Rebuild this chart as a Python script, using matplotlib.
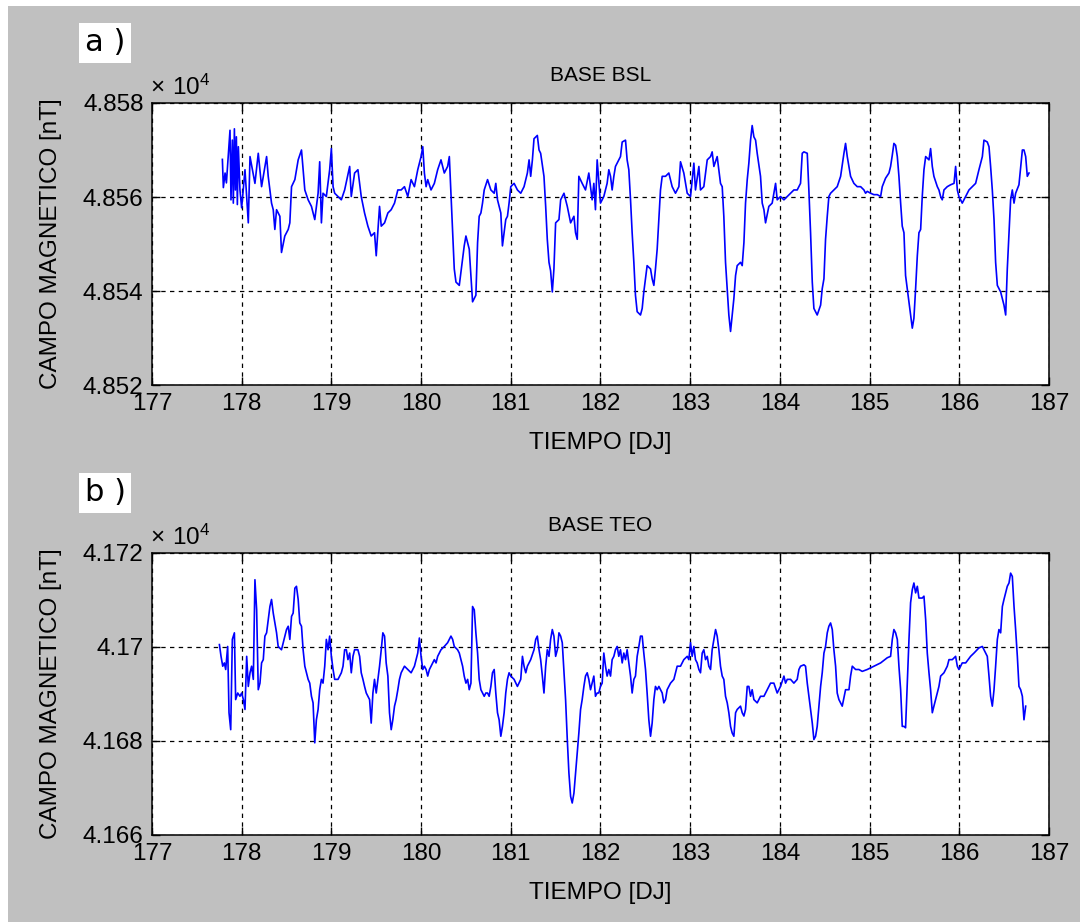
import matplotlib
matplotlib.use("Agg")
import matplotlib.pyplot as plt
from matplotlib.ticker import FuncFormatter
from matplotlib.patches import Rectangle

plt.rcParams['font.family'] = ['Liberation Sans', 'DejaVu Sans']
plt.rcParams['mathtext.fontset'] = 'custom'
plt.rcParams['mathtext.rm'] = 'Liberation Sans'

# --- BASE BSL (dia juliano, nT)
t_bsl = [177.785, 177.796, 177.815, 177.830, 177.870, 177.881, 177.896, 177.907, 177.919, 177.930,
         177.941, 177.952, 177.963, 177.981, 178.000, 178.037, 178.074, 178.093, 178.148, 178.185,
         178.222, 178.278, 178.296, 178.333, 178.352, 178.370, 178.389, 178.426, 178.444, 178.481,
         178.519, 178.537, 178.556, 178.593, 178.630, 178.667, 178.685, 178.704, 178.741, 178.778,
         178.815, 178.852, 178.870, 178.889, 178.907, 178.944, 178.981, 179.000, 179.019, 179.037,
         179.111, 179.148, 179.204, 179.222, 179.259, 179.296, 179.333, 179.370, 179.407, 179.444,
         179.481, 179.500, 179.537, 179.556, 179.593, 179.630, 179.667, 179.704, 179.741, 179.778,
         179.815, 179.852, 179.889, 179.926, 179.963, 180.000, 180.019, 180.037, 180.056, 180.074,
         180.111, 180.148, 180.185, 180.222, 180.259, 180.296, 180.315, 180.333, 180.352, 180.370,
         180.389, 180.426, 180.444, 180.481, 180.500, 180.537, 180.556, 180.574, 180.611, 180.630,
         180.648, 180.667, 180.685, 180.704, 180.741, 180.778, 180.815, 180.833, 180.852, 180.889,
         180.907, 180.944, 180.963, 180.981, 181.000, 181.037, 181.074, 181.111, 181.148, 181.185,
         181.204, 181.222, 181.241, 181.259, 181.296, 181.315, 181.333, 181.370, 181.389, 181.407,
         181.426, 181.444, 181.463, 181.481, 181.500, 181.537, 181.556, 181.593, 181.630, 181.667,
         181.704, 181.722, 181.741, 181.759, 181.796, 181.833, 181.870, 181.907, 181.926, 181.944,
         181.963, 182.000, 182.037, 182.074, 182.093, 182.112, 182.130, 182.149, 182.167, 182.186,
         182.223, 182.242, 182.279, 182.297, 182.316, 182.335, 182.353, 182.372, 182.390, 182.409,
         182.446, 182.465, 182.483, 182.520, 182.558, 182.576, 182.595, 182.613, 182.632, 182.651,
         182.669, 182.688, 182.725, 182.762, 182.799, 182.836, 182.874, 182.892, 182.929, 182.967,
         183.004, 183.041, 183.059, 183.097, 183.115, 183.152, 183.190, 183.227, 183.245, 183.264,
         183.301, 183.338, 183.357, 183.375, 183.394, 183.413, 183.431, 183.450, 183.468, 183.487,
         183.506, 183.524, 183.561, 183.580, 183.599, 183.617, 183.636, 183.654, 183.673, 183.691,
         183.710, 183.729, 183.747, 183.784, 183.803, 183.822, 183.840, 183.877, 183.914, 183.952,
         183.970, 184.007, 184.045, 184.082, 184.119, 184.156, 184.193, 184.212, 184.230, 184.249,
         184.268, 184.305, 184.323, 184.342, 184.361, 184.379, 184.416, 184.454, 184.472, 184.491,
         184.509, 184.528, 184.546, 184.565, 184.602, 184.639, 184.677, 184.714, 184.732, 184.751,
         184.770, 184.788, 184.825, 184.862, 184.900, 184.937, 184.955, 184.974, 185.011, 185.048,
         185.086, 185.123, 185.141, 185.178, 185.216, 185.234, 185.253, 185.271, 185.290, 185.309,
         185.327, 185.346, 185.364, 185.383, 185.401, 185.420, 185.457, 185.476, 185.494, 185.513,
         185.532, 185.550, 185.569, 185.587, 185.606, 185.625, 185.662, 185.680, 185.699, 185.717,
         185.755, 185.773, 185.792, 185.810, 185.829, 185.866, 185.903, 185.941, 185.959, 185.978,
         185.996, 186.033, 186.071, 186.108, 186.145, 186.182, 186.219, 186.257, 186.275, 186.312,
         186.331, 186.349, 186.368, 186.387, 186.405, 186.424, 186.461, 186.498, 186.517, 186.535,
         186.554, 186.572, 186.591, 186.610, 186.628, 186.665, 186.703, 186.721, 186.740, 186.758,
         186.777]
b_bsl = [48568.0, 48562.0, 48565.1, 48563.0, 48574.2, 48559.4, 48572.1, 48558.7, 48574.5, 48561.5,
         48572.8, 48558.4, 48570.7, 48561.5, 48557.7, 48565.8, 48554.5, 48568.6, 48562.9, 48569.3,
         48562.2, 48568.6, 48564.4, 48558.7, 48557.3, 48553.1, 48557.3, 48555.9, 48548.2, 48551.7,
         48553.1, 48554.5, 48562.2, 48563.7, 48567.9, 48570.0, 48565.8, 48561.5, 48559.4, 48558.0,
         48555.2, 48560.8, 48567.5, 48554.5, 48560.8, 48560.1, 48565.8, 48570.3, 48562.2, 48560.8,
         48559.4, 48561.5, 48566.5, 48560.1, 48565.1, 48565.8, 48560.1, 48556.6, 48553.8, 48551.7,
         48552.4, 48547.5, 48558.0, 48553.8, 48554.5, 48556.6, 48557.3, 48558.7, 48561.5, 48561.5,
         48562.2, 48560.1, 48563.7, 48562.2, 48565.8, 48568.6, 48570.7, 48565.1, 48562.2, 48563.7,
         48561.5, 48562.9, 48565.8, 48567.9, 48565.1, 48566.5, 48568.6, 48560.8, 48552.4, 48544.7,
         48541.9, 48541.2, 48544.0, 48549.6, 48551.7, 48548.9, 48543.3, 48537.7, 48539.1, 48550.3,
         48555.9, 48556.6, 48558.7, 48561.5, 48563.7, 48561.5, 48560.8, 48562.9, 48559.4, 48556.6,
         48549.6, 48555.2, 48555.9, 48558.7, 48562.2, 48562.9, 48561.5, 48560.8, 48562.2, 48565.1,
         48567.9, 48564.4, 48567.9, 48572.4, 48573.1, 48570.0, 48569.3, 48564.4, 48558.0, 48551.0,
         48546.1, 48544.3, 48539.8, 48544.7, 48554.5, 48555.2, 48559.4, 48560.8, 48558.0, 48554.5,
         48555.9, 48552.4, 48551.0, 48564.4, 48562.9, 48561.5, 48565.1, 48559.4, 48562.9, 48557.3,
         48567.9, 48558.7, 48560.1, 48562.9, 48565.8, 48564.4, 48561.5, 48564.4, 48566.5, 48567.2,
         48568.6, 48571.7, 48572.1, 48567.9, 48565.8, 48559.4, 48552.4, 48546.1, 48539.1, 48535.6,
         48534.9, 48536.3, 48539.8, 48545.4, 48544.7, 48542.6, 48541.2, 48544.7, 48548.9, 48555.2,
         48561.5, 48564.4, 48564.4, 48565.1, 48562.2, 48560.8, 48562.2, 48567.5, 48565.1, 48560.8,
         48560.1, 48567.2, 48561.5, 48566.5, 48561.5, 48562.2, 48567.9, 48568.6, 48569.6, 48566.5,
         48568.6, 48562.9, 48562.2, 48555.9, 48546.1, 48540.5, 48534.9, 48531.4, 48534.9, 48538.4,
         48543.3, 48545.4, 48546.1, 48545.4, 48550.3, 48558.7, 48563.7, 48567.2, 48572.1, 48575.2,
         48572.8, 48572.1, 48569.3, 48564.4, 48558.7, 48557.3, 48554.5, 48558.0, 48558.7, 48562.9,
         48559.4, 48560.1, 48559.4, 48560.1, 48560.8, 48561.5, 48561.5, 48562.2, 48562.9, 48569.3,
         48569.6, 48569.3, 48561.5, 48552.4, 48541.9, 48536.3, 48534.9, 48537.0, 48540.5, 48542.6,
         48551.0, 48555.9, 48560.1, 48560.8, 48561.5, 48562.2, 48564.4, 48569.3, 48571.4, 48568.6,
         48566.5, 48564.4, 48562.9, 48562.2, 48562.2, 48561.5, 48560.8, 48561.2, 48560.8, 48560.5,
         48560.5, 48560.1, 48562.2, 48564.0, 48565.1, 48566.5, 48568.9, 48571.4, 48571.0, 48568.6,
         48564.4, 48558.7, 48553.8, 48552.4, 48543.3, 48540.5, 48534.9, 48532.1, 48534.2, 48540.5,
         48547.5, 48552.4, 48553.1, 48560.1, 48565.8, 48568.6, 48567.9, 48570.3, 48566.5, 48564.4,
         48562.2, 48561.5, 48560.1, 48559.4, 48561.5, 48562.2, 48562.6, 48562.9, 48566.5, 48561.5,
         48560.1, 48558.7, 48560.1, 48561.5, 48562.2, 48562.9, 48565.8, 48568.6, 48572.1, 48571.7,
         48570.7, 48566.5, 48561.5, 48555.2, 48546.1, 48541.2, 48539.8, 48537.0, 48534.9, 48544.7,
         48552.4, 48559.4, 48561.5, 48558.7, 48560.8, 48562.6, 48570.0, 48570.0, 48568.6, 48564.4,
         48565.1]

# --- BASE TEO (dia juliano, nT)
t_teo = [177.752, 177.770, 177.789, 177.807, 177.822, 177.844, 177.859, 177.878, 177.896, 177.919,
         177.933, 177.956, 177.981, 178.000, 178.019, 178.037, 178.056, 178.074, 178.093, 178.111,
         178.130, 178.148, 178.167, 178.185, 178.204, 178.222, 178.241, 178.259, 178.278, 178.296,
         178.315, 178.333, 178.352, 178.370, 178.389, 178.407, 178.444, 178.481, 178.500, 178.519,
         178.537, 178.556, 178.574, 178.593, 178.611, 178.630, 178.648, 178.667, 178.685, 178.704,
         178.722, 178.741, 178.759, 178.778, 178.796, 178.815, 178.833, 178.852, 178.870, 178.889,
         178.907, 178.926, 178.944, 178.963, 178.981, 179.000, 179.019, 179.037, 179.074, 179.093,
         179.111, 179.130, 179.148, 179.167, 179.185, 179.204, 179.222, 179.241, 179.259, 179.296,
         179.315, 179.333, 179.352, 179.370, 179.389, 179.407, 179.426, 179.444, 179.463, 179.481,
         179.500, 179.519, 179.537, 179.556, 179.574, 179.593, 179.611, 179.630, 179.648, 179.667,
         179.685, 179.704, 179.722, 179.741, 179.759, 179.778, 179.796, 179.815, 179.852, 179.889,
         179.926, 179.944, 179.963, 179.981, 180.000, 180.019, 180.037, 180.056, 180.074, 180.093,
         180.111, 180.130, 180.148, 180.167, 180.185, 180.222, 180.259, 180.296, 180.333, 180.352,
         180.370, 180.407, 180.426, 180.444, 180.463, 180.481, 180.500, 180.519, 180.537, 180.556,
         180.574, 180.593, 180.611, 180.630, 180.648, 180.667, 180.685, 180.704, 180.722, 180.741,
         180.759, 180.778, 180.796, 180.815, 180.833, 180.852, 180.870, 180.889, 180.907, 180.926,
         180.944, 180.963, 180.981, 181.000, 181.037, 181.074, 181.111, 181.130, 181.148, 181.167,
         181.185, 181.222, 181.259, 181.278, 181.296, 181.315, 181.333, 181.352, 181.370, 181.389,
         181.407, 181.426, 181.444, 181.463, 181.481, 181.500, 181.519, 181.537, 181.556, 181.574,
         181.593, 181.611, 181.630, 181.648, 181.667, 181.685, 181.704, 181.722, 181.741, 181.759,
         181.778, 181.796, 181.815, 181.833, 181.852, 181.870, 181.889, 181.907, 181.926, 181.944,
         181.963, 181.981, 182.000, 182.019, 182.037, 182.056, 182.074, 182.093, 182.112, 182.130,
         182.149, 182.167, 182.186, 182.204, 182.223, 182.242, 182.260, 182.279, 182.297, 182.316,
         182.335, 182.353, 182.372, 182.390, 182.409, 182.428, 182.446, 182.465, 182.483, 182.502,
         182.520, 182.539, 182.558, 182.576, 182.595, 182.613, 182.632, 182.651, 182.669, 182.688,
         182.706, 182.725, 182.743, 182.781, 182.818, 182.855, 182.892, 182.929, 182.967, 182.985,
         183.004, 183.022, 183.041, 183.059, 183.078, 183.097, 183.115, 183.134, 183.152, 183.171,
         183.190, 183.208, 183.227, 183.245, 183.264, 183.283, 183.301, 183.320, 183.338, 183.357,
         183.375, 183.394, 183.413, 183.431, 183.450, 183.468, 183.487, 183.506, 183.524, 183.561,
         183.580, 183.599, 183.617, 183.636, 183.654, 183.673, 183.691, 183.710, 183.747, 183.784,
         183.822, 183.859, 183.896, 183.933, 183.970, 184.007, 184.045, 184.063, 184.082, 184.119,
         184.156, 184.193, 184.212, 184.230, 184.268, 184.286, 184.305, 184.323, 184.342, 184.361,
         184.379, 184.398, 184.416, 184.435, 184.454, 184.472, 184.491, 184.509, 184.528, 184.546,
         184.565, 184.584, 184.602, 184.621, 184.639, 184.658, 184.695, 184.732, 184.770, 184.788,
         184.807, 184.844, 184.881, 184.918, 184.974, 185.048, 185.123, 185.197, 185.234, 185.253,
         185.271, 185.290, 185.309, 185.327, 185.346, 185.364, 185.383, 185.401, 185.420, 185.439,
         185.457, 185.476, 185.494, 185.513, 185.532, 185.550, 185.587, 185.606, 185.625, 185.643,
         185.662, 185.680, 185.699, 185.717, 185.755, 185.773, 185.792, 185.829, 185.866, 185.885,
         185.922, 185.959, 185.978, 185.996, 186.033, 186.071, 186.126, 186.164, 186.219, 186.257,
         186.294, 186.312, 186.331, 186.349, 186.368, 186.387, 186.405, 186.424, 186.442, 186.461,
         186.480, 186.498, 186.517, 186.535, 186.554, 186.572, 186.591, 186.610, 186.628, 186.647,
         186.665, 186.684, 186.703, 186.721, 186.740]
b_teo = [41700.5, 41698.0, 41695.9, 41696.6, 41695.2, 41700.1, 41686.0, 41682.4, 41701.6, 41703.0,
         41688.8, 41690.2, 41689.5, 41690.2, 41688.8, 41686.7, 41698.0, 41691.6, 41694.5, 41695.9,
         41693.1, 41714.3, 41707.9, 41690.9, 41692.3, 41696.6, 41697.3, 41702.3, 41703.0, 41705.8,
         41708.6, 41710.1, 41707.2, 41705.1, 41703.0, 41700.1, 41699.4, 41702.3, 41703.7, 41704.4,
         41701.6, 41706.5, 41707.2, 41712.5, 41712.9, 41710.1, 41705.1, 41704.4, 41699.4, 41695.9,
         41694.5, 41693.1, 41692.3, 41689.5, 41688.1, 41679.6, 41684.5, 41686.7, 41690.9, 41693.1,
         41692.3, 41695.9, 41701.6, 41699.4, 41702.3, 41698.0, 41695.2, 41693.1, 41693.1, 41693.8,
         41694.5, 41695.9, 41699.4, 41699.4, 41697.3, 41698.7, 41694.5, 41698.0, 41699.4, 41699.4,
         41698.0, 41694.5, 41693.1, 41691.6, 41690.2, 41689.5, 41688.8, 41683.8, 41690.2, 41693.1,
         41690.2, 41693.1, 41695.9, 41699.4, 41703.0, 41702.3, 41696.6, 41693.8, 41686.0, 41682.4,
         41684.5, 41687.4, 41688.8, 41690.9, 41693.1, 41694.5, 41695.2, 41695.9, 41695.2, 41694.5,
         41695.9, 41697.3, 41698.7, 41701.9, 41698.0, 41695.2, 41695.9, 41695.2, 41693.8, 41695.2,
         41695.9, 41696.6, 41697.3, 41696.6, 41698.0, 41699.4, 41700.1, 41700.9, 41702.3, 41701.6,
         41700.1, 41699.4, 41698.7, 41697.3, 41695.9, 41693.8, 41692.3, 41693.1, 41690.9, 41692.3,
         41708.6, 41707.9, 41703.0, 41698.7, 41693.1, 41690.9, 41690.2, 41689.5, 41690.2, 41690.2,
         41689.5, 41691.6, 41694.5, 41695.2, 41690.2, 41686.0, 41684.5, 41681.0, 41683.1, 41686.0,
         41690.2, 41693.1, 41694.5, 41693.8, 41693.1, 41691.6, 41693.1, 41698.0, 41695.9, 41694.5,
         41695.9, 41697.3, 41699.4, 41701.6, 41702.3, 41699.4, 41697.3, 41693.8, 41690.2, 41695.9,
         41699.4, 41698.0, 41701.6, 41703.7, 41702.3, 41698.0, 41699.4, 41703.0, 41702.3, 41700.9,
         41694.5, 41688.8, 41680.3, 41673.2, 41668.2, 41666.8, 41668.9, 41673.2, 41677.5, 41681.7,
         41686.7, 41688.8, 41691.6, 41693.8, 41694.5, 41693.1, 41690.9, 41692.3, 41693.8, 41689.5,
         41690.2, 41690.2, 41691.6, 41692.3, 41698.7, 41695.9, 41693.8, 41695.2, 41693.8, 41697.3,
         41698.0, 41699.4, 41700.1, 41698.0, 41699.4, 41696.6, 41698.7, 41697.3, 41699.4, 41696.6,
         41693.8, 41690.2, 41693.1, 41693.8, 41698.0, 41700.1, 41702.3, 41702.3, 41698.7, 41695.2,
         41690.2, 41684.5, 41681.0, 41683.8, 41688.8, 41691.6, 41690.9, 41691.6, 41690.9, 41690.2,
         41688.1, 41688.8, 41690.9, 41692.3, 41693.1, 41695.9, 41695.9, 41697.3, 41698.0, 41697.3,
         41700.9, 41698.0, 41700.1, 41697.3, 41696.6, 41695.2, 41694.5, 41698.7, 41699.4, 41697.3,
         41698.0, 41695.9, 41695.2, 41699.4, 41701.6, 41703.7, 41702.3, 41699.4, 41695.9, 41693.8,
         41693.1, 41689.5, 41688.1, 41686.0, 41683.1, 41681.7, 41681.0, 41686.0, 41686.7, 41687.4,
         41686.0, 41685.3, 41686.7, 41691.6, 41691.6, 41689.5, 41690.9, 41688.8, 41688.1, 41689.5,
         41689.5, 41690.9, 41692.3, 41692.3, 41690.2, 41691.6, 41693.8, 41692.3, 41693.1, 41693.1,
         41692.3, 41693.1, 41695.2, 41695.9, 41696.2, 41695.9, 41692.3, 41689.5, 41686.7, 41683.8,
         41680.3, 41681.0, 41683.1, 41687.4, 41691.6, 41694.5, 41698.7, 41700.1, 41703.0, 41704.4,
         41705.1, 41703.7, 41699.4, 41695.9, 41690.2, 41688.8, 41687.4, 41690.9, 41690.9, 41693.8,
         41695.9, 41695.2, 41695.2, 41694.8, 41695.2, 41695.9, 41696.6, 41697.7, 41698.0, 41701.6,
         41703.7, 41703.0, 41701.6, 41695.9, 41690.9, 41683.1, 41683.1, 41682.8, 41692.3, 41701.6,
         41709.4, 41712.2, 41713.6, 41711.5, 41712.9, 41710.4, 41710.4, 41710.8, 41705.8, 41698.7,
         41694.5, 41690.9, 41686.0, 41687.4, 41690.2, 41691.6, 41693.8, 41694.5, 41695.9, 41697.3,
         41697.3, 41698.0, 41695.9, 41695.2, 41696.6, 41696.6, 41698.0, 41698.7, 41699.8, 41700.1,
         41698.7, 41698.0, 41693.8, 41689.5, 41687.4, 41690.9, 41695.9, 41701.6, 41703.7, 41703.0,
         41708.6, 41710.1, 41711.5, 41712.9, 41713.6, 41715.7, 41715.0, 41708.6, 41703.7, 41698.0,
         41691.6, 41690.9, 41689.5, 41684.5, 41687.4]

x_ticks = [177, 178, 179, 180, 181, 182, 183, 184, 185, 186, 187]
ticks_bsl = [48520, 48540, 48560, 48580]
ticks_teo = [41660, 41680, 41700, 41720]

GRAY = '#c0c0c0'
FS = 17.5


def draw_panel(ax, t, b, yticks, title, letter):
    ax.plot(t, b, color='#0000ff', linewidth=1.2)
    ax.set_xlim(x_ticks[0], x_ticks[-1])
    ax.set_ylim(yticks[0], yticks[-1])
    ax.set_xticks(x_ticks)
    ax.set_yticks(yticks)
    ax.yaxis.set_major_formatter(FuncFormatter(lambda v, p: f"{round(v / 1e4, 4):g}"))
    ax.grid(True, color='black', linestyle=(0, (3.5, 3.5)), linewidth=0.9)
    ax.tick_params(direction='in', length=6, width=1, top=True, right=True,
                   labelsize=FS, pad=6)
    for s in ax.spines.values():
        s.set_linewidth(1.1)
    ax.set_title(title, fontsize=15, pad=16)
    ax.set_xlabel('TIEMPO [DJ]', fontsize=FS, va='top')
    ax.xaxis.set_label_coords(0.5, -0.168)
    ax.set_ylabel('CAMPO MAGNETICO [nT]', fontsize=FS)
    ax.yaxis.set_label_coords(-0.100, 0.5)
    ax.text(-0.002, 1.012, r'$\mathregular{\times\ 10^{4}}$', transform=ax.transAxes,
            fontsize=FS, ha='left', va='bottom')
    ax.text(-0.075, 1.213, letter, transform=ax.transAxes, fontsize=22,
            ha='left', va='center', family='DejaVu Sans',
            bbox=dict(facecolor='white', edgecolor='none', pad=4))


fig = plt.figure(figsize=(10.8, 9.22), dpi=100, facecolor=GRAY)
# borde blanco arriba e izquierda
fig.patches.append(Rectangle((0, 1 - 6 / 922), 1, 6 / 922, transform=fig.transFigure,
                             facecolor='white', edgecolor='none', zorder=-1))
fig.patches.append(Rectangle((0, 0), 8 / 1080, 1, transform=fig.transFigure,
                             facecolor='white', edgecolor='none', zorder=-1))

ax1 = fig.add_axes([0.1407, 0.5824, 0.8306, 0.3059])
ax2 = fig.add_axes([0.1407, 0.0944, 0.8306, 0.3059])

draw_panel(ax1, t_bsl, b_bsl, ticks_bsl, 'BASE BSL', 'a )')
draw_panel(ax2, t_teo, b_teo, ticks_teo, 'BASE TEO', 'b )')

fig.savefig('out.png', dpi=100, facecolor=GRAY)
